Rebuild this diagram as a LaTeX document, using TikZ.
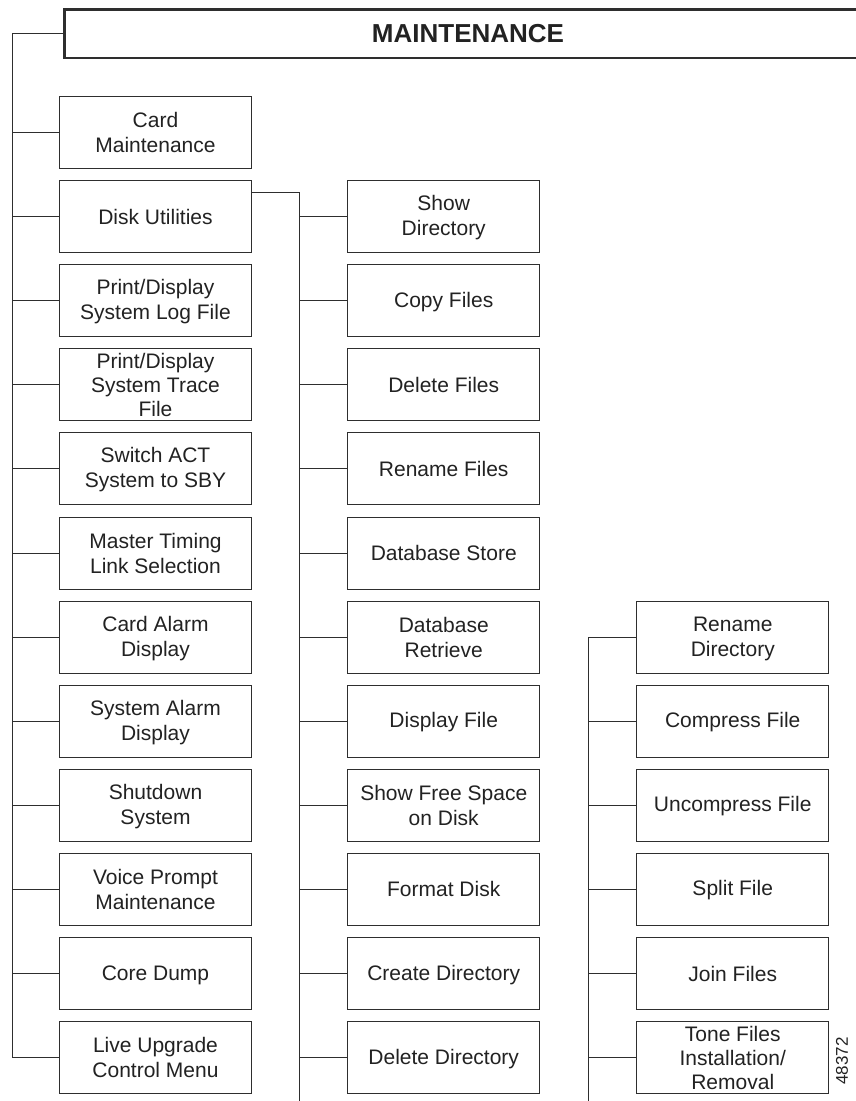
\documentclass[tikz,border=0pt]{standalone}
\usepackage{fontspec}
\setmainfont{Liberation Sans}
\definecolor{ink}{HTML}{222222}
\definecolor{linec}{HTML}{2E2E2E}
\newcommand{\sx}{\rule[-2.5pt]{0pt}{20pt}}
\tikzset{
  mbox/.style={draw=linec, line width=1pt, minimum width=192pt, minimum height=72pt,
    inner sep=0pt, align=center, text=ink, font=\fontsize{21}{25}\selectfont},
  tbox/.style={mbox, font=\fontsize{21}{24}\selectfont},
  conn/.style={draw=linec, line width=1pt},
  hdrbox/.style={minimum width=900pt, minimum height=47.7pt, inner sep=0pt, anchor=west},
  hdrline/.style={draw=linec, line width=2.7pt, line join=miter},
  hdrtext/.style={inner sep=0pt, text=ink, font=\fontsize{26}{30}\selectfont\bfseries}
}
\begin{document}
\begin{tikzpicture}[x=1pt,y=-1pt]
\useasboundingbox (0,0) rectangle (856,1101);
\clip (0,0) rectangle (856,1101);
\fill[white] (0,0) rectangle (856,1101);

\node[hdrbox] (hdr) at (64.5,33.85) {};
\draw[hdrline] (hdr.north east) -- (hdr.north west) -- (hdr.south west) -- (hdr.south east);
\node[hdrtext] (title) at (468,33.85) {MAINTENANCE};

% left column
\node[mbox] (L0) at (155.5,132.5) {\sx Card\\\sx Maintenance};
\node[mbox] (L1) at (155.5,216.6) {\sx Disk Utilities};
\node[mbox] (L2) at (155.5,300.7) {\sx Print/Display\\\sx System Log File};
\node[tbox] (L3) at (155.5,384.8) {\sx Print/Display\\\sx System Trace\\\sx File};
\node[mbox] (L4) at (155.5,468.9) {\sx Switch ACT\\\sx System to SBY};
\node[mbox] (L5) at (155.5,553.0) {\sx Master Timing\\\sx Link Selection};
\node[mbox] (L6) at (155.5,637.1) {\sx Card Alarm\\\sx Display};
\node[mbox] (L7) at (155.5,721.2) {\sx System Alarm\\\sx Display};
\node[mbox] (L8) at (155.5,805.3) {\sx Shutdown\\\sx System};
\node[mbox] (L9) at (155.5,889.4) {\sx Voice Prompt\\\sx Maintenance};
\node[mbox] (L10) at (155.5,973.5) {\sx Core Dump};
\node[mbox] (L11) at (155.5,1057.6) {\sx Live Upgrade\\\sx Control Menu};

% middle column
\node[mbox] (M1) at (443.75,216.6) {\sx Show\\\sx Directory};
\node[mbox] (M2) at (443.75,300.7) {\sx Copy Files};
\node[mbox] (M3) at (443.75,384.8) {\sx Delete Files};
\node[mbox] (M4) at (443.75,468.9) {\sx Rename Files};
\node[mbox] (M5) at (443.75,553.0) {\sx Database Store};
\node[mbox] (M6) at (443.75,637.1) {\sx Database\\\sx Retrieve};
\node[mbox] (M7) at (443.75,721.2) {\sx Display File};
\node[mbox] (M8) at (443.75,805.3) {\sx Show Free Space\\\sx on Disk};
\node[mbox] (M9) at (443.75,889.4) {\sx Format Disk};
\node[mbox] (M10) at (443.75,973.5) {\sx Create Directory};
\node[mbox] (M11) at (443.75,1057.6) {\sx Delete Directory};

% right column
\node[mbox] (R6) at (732.75,637.1) {\sx Rename\\\sx Directory};
\node[mbox] (R7) at (732.75,721.2) {\sx Compress File};
\node[mbox] (R8) at (732.75,805.3) {\sx Uncompress File};
\node[mbox] (R9) at (732.75,889.4) {\sx Split File};
\node[mbox] (R10) at (732.75,973.5) {\sx Join Files};
\node[tbox] (R11) at (732.75,1057.6) {\sx Tone Files\\\sx Installation/\\\sx Removal};

\node[rotate=90, text=ink, font=\fontsize{17}{20}\selectfont, inner sep=0pt] (fig) at (842,1061) {48372};

% trunks
\coordinate (tL) at (12,33.85);
\coordinate (bM) at (299.5,1101);
\coordinate (bR) at (588,1101);

\draw[conn] (hdr.west) -- (tL) |- (L11.west);
\foreach \i in {0,...,10} { \draw[conn] (L\i.west) -- (L\i.west -| tL); }

\draw[conn] ([yshift=24pt]L1.east) -| (bM);
\foreach \i in {1,...,11} { \draw[conn] (M\i.west) -- (M\i.west -| bM); }

\draw[conn] (R6.west) -| (bR);
\foreach \i in {7,...,11} { \draw[conn] (R\i.west) -- (R\i.west -| bR); }
\end{tikzpicture}
\end{document}
